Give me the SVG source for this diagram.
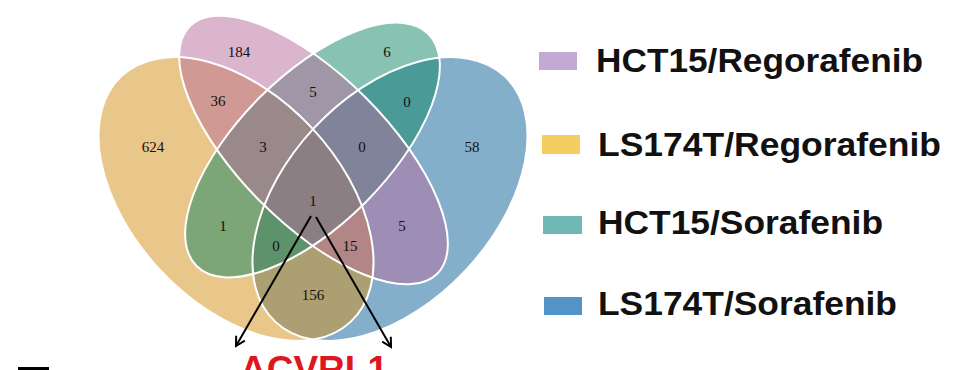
<svg xmlns="http://www.w3.org/2000/svg" width="966" height="370" viewBox="0 0 966 370">
<style>
.fill{fill-opacity:0.5;stroke:none}
.outline{fill:none;stroke:#fff;stroke-width:2}
.num{font-family:"Liberation Serif","Times New Roman",serif;font-size:15px;fill:#111;text-anchor:middle}
.leg{font-family:"Liberation Sans",Arial,sans-serif;font-weight:bold;font-size:33px;fill:#111}
.arrow{stroke:#000;stroke-width:2;fill:none;marker-end:url(#ah)}
</style>
<defs>
<ellipse id="shB" cx="390" cy="199" rx="168" ry="104" transform="rotate(-47 390 199)"/>
<ellipse id="shY" cx="236" cy="199" rx="168" ry="104" transform="rotate(47 236 199)"/>
<ellipse id="shG" cx="312.5" cy="150" rx="164" ry="74.5" transform="rotate(-45 312.5 150)"/>
<ellipse id="shP" cx="313.5" cy="150" rx="175" ry="74" transform="rotate(45 313.5 150)"/>
<marker id="ah" viewBox="0 0 12 12" refX="10" refY="6" markerWidth="12" markerHeight="12" markerUnits="userSpaceOnUse" orient="auto">
<path d="M1,1 L10,6 L1,11" fill="none" stroke="#000" stroke-width="2"/>
</marker>
</defs>
<g id="set-ls174t-sorafenib"><use href="#shB" class="fill" fill="#095F97"/></g>
<g id="set-ls174t-regorafenib"><use href="#shY" class="fill" fill="#D38F17"/></g>
<g id="set-hct15-sorafenib"><use href="#shG" class="fill" fill="#0F8565"/></g>
<g id="set-hct15-regorafenib"><use href="#shP" class="fill" fill="#B76B9D"/></g>
<g id="outlines">
<use href="#shB" class="outline"/>
<use href="#shY" class="outline"/>
<use href="#shG" class="outline"/>
<use href="#shP" class="outline"/>
</g>
<g id="counts">
<text class="num" x="239" y="57">184</text>
<text class="num" x="387" y="57">6</text>
<text class="num" x="218" y="106">36</text>
<text class="num" x="313" y="97">5</text>
<text class="num" x="407" y="107">0</text>
<text class="num" x="153" y="152">624</text>
<text class="num" x="263" y="152">3</text>
<text class="num" x="362" y="152">0</text>
<text class="num" x="472" y="152">58</text>
<text class="num" x="313" y="206">1</text>
<text class="num" x="223" y="231">1</text>
<text class="num" x="402" y="231">5</text>
<text class="num" x="276" y="251">0</text>
<text class="num" x="350" y="251">15</text>
<text class="num" x="313" y="300">156</text>
</g>
<g id="connectors">
<line class="arrow" x1="311" y1="216" x2="236" y2="346"/>
<line class="arrow" x1="316" y1="217" x2="391" y2="347"/>
</g>
<g id="gene-acvrl1">
<text x="240" y="382" textLength="148" lengthAdjust="spacingAndGlyphs" style="font-family:'Liberation Sans',Arial,sans-serif;font-weight:bold;font-size:37px;fill:#E0161E">ACVRL1</text>
</g>
<g id="legend">
<g id="legend-hct15-regorafenib"><rect x="539" y="52" width="38" height="18" fill="#C4A9D4"/><text class="leg" x="596" y="72" textLength="327" lengthAdjust="spacingAndGlyphs">HCT15/Regorafenib</text></g>
<g id="legend-ls174t-regorafenib"><rect x="542" y="135" width="38" height="19" fill="#F5CE62"/><text class="leg" x="598" y="156" textLength="343" lengthAdjust="spacingAndGlyphs">LS174T/Regorafenib</text></g>
<g id="legend-hct15-sorafenib"><rect x="543" y="216" width="39" height="18" fill="#6FB8B6"/><text class="leg" x="598" y="234" textLength="285" lengthAdjust="spacingAndGlyphs">HCT15/Sorafenib</text></g>
<g id="legend-ls174t-sorafenib"><rect x="544" y="297" width="38" height="18" fill="#5194CA"/><text class="leg" x="598" y="315" textLength="299" lengthAdjust="spacingAndGlyphs">LS174T/Sorafenib</text></g>
</g>
<rect x="18" y="367" width="31" height="3" fill="#000"/>
</svg>
